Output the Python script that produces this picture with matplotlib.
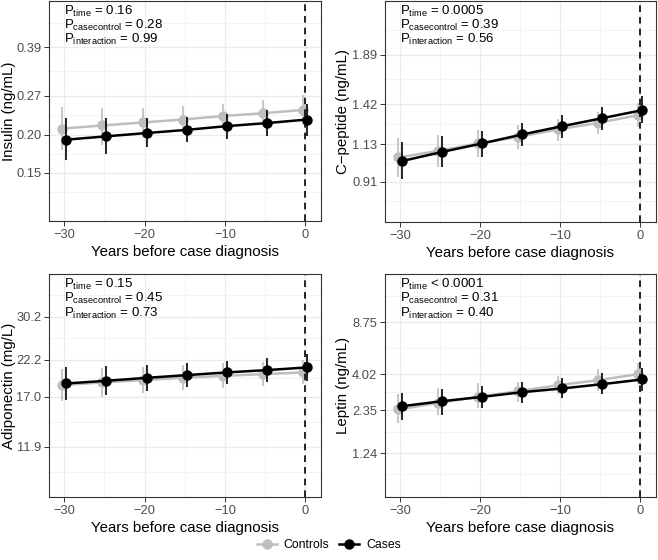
import numpy as np
import matplotlib
matplotlib.use("Agg")
import matplotlib.pyplot as plt
from matplotlib.lines import Line2D

plt.rcParams['font.family'] = ['Liberation Sans', 'DejaVu Sans']
plt.rcParams['mathtext.fontset'] = 'custom'
plt.rcParams['mathtext.rm'] = 'Liberation Sans'
plt.rcParams['mathtext.it'] = 'Liberation Sans'

years = [-30, -25, -20, -15, -10, -5, 0]

# insulin (ng/mL)
ins_ctrl = [0.210, 0.215, 0.220, 0.225, 0.231, 0.236, 0.242]
ins_ctrl_lo = [0.178, 0.186, 0.196, 0.203, 0.210, 0.215, 0.215]
ins_ctrl_hi = [0.247, 0.245, 0.245, 0.249, 0.253, 0.260, 0.272]
ins_case = [0.193, 0.198, 0.203, 0.208, 0.214, 0.219, 0.225]
ins_case_lo = [0.165, 0.173, 0.182, 0.189, 0.194, 0.198, 0.199]
ins_case_hi = [0.228, 0.227, 0.228, 0.230, 0.235, 0.242, 0.253]

# c-peptide (ng/mL)
cp_ctrl = [1.047, 1.087, 1.135, 1.178, 1.230, 1.277, 1.335]
cp_ctrl_lo = [0.937, 0.989, 1.051, 1.102, 1.152, 1.195, 1.248]
cp_ctrl_hi = [1.168, 1.190, 1.225, 1.260, 1.302, 1.360, 1.428]
cp_case = [1.026, 1.081, 1.135, 1.195, 1.253, 1.312, 1.374]
cp_case_lo = [0.928, 0.989, 1.051, 1.117, 1.174, 1.225, 1.273]
cp_case_hi = [1.145, 1.183, 1.219, 1.273, 1.335, 1.400, 1.489]

# adiponectin (mg/L)
adi_ctrl = [18.49, 18.85, 19.16, 19.48, 19.76, 20.00, 20.25]
adi_ctrl_lo = [16.52, 17.00, 17.42, 17.84, 18.05, 18.35, 18.58]
adi_ctrl_hi = [20.73, 20.84, 21.08, 21.34, 21.60, 21.85, 22.12]
adi_case = [18.71, 19.07, 19.48, 19.86, 20.25, 20.59, 20.99]
adi_case_lo = [16.60, 17.21, 17.75, 18.26, 18.62, 18.85, 19.07]
adi_case_hi = [20.99, 21.19, 21.34, 21.60, 21.96, 22.39, 23.09]

# leptin (ng/mL)
lep_ctrl = [2.375, 2.621, 2.866, 3.121, 3.413, 3.678, 4.022]
lep_ctrl_lo = [1.944, 2.181, 2.410, 2.660, 2.984, 3.134, 3.464]
lep_ctrl_hi = [2.971, 3.249, 3.501, 3.585, 3.904, 4.314, 4.718]
lep_case = [2.495, 2.688, 2.866, 3.074, 3.249, 3.464, 3.716]
lep_case_lo = [2.024, 2.181, 2.410, 2.621, 2.798, 2.971, 3.134]
lep_case_hi = [3.042, 3.200, 3.362, 3.585, 3.772, 4.064, 4.418]

ylabels = ['Insulin (ng/mL)', 'C\u2212peptide (ng/mL)', 'Adiponectin (mg/L)', 'Leptin (ng/mL)']
yticks = [[0.15, 0.20, 0.27, 0.39], [0.91, 1.13, 1.42, 1.89],
          [11.9, 17.0, 22.2, 30.2], [1.24, 2.35, 4.02, 8.75]]
yticklabels = [['0.15', '0.20', '0.27', '0.39'], ['0.91', '1.13', '1.42', '1.89'],
               ['11.9', '17.0', '22.2', '30.2'], ['1.24', '2.35', '4.02', '8.75']]
ylims = [(0.104, 0.554), (0.723, 2.57), (8.30, 40.96), (0.644, 17.9)]
pvals = [['= 0.16', '= 0.28', '= 0.99'],
         ['= 0.0005', '= 0.39', '= 0.56'],
         ['= 0.15', '= 0.45', '= 0.73'],
         ['< 0.0001', '= 0.31', '= 0.40']]

series = [
    (ins_ctrl, ins_ctrl_lo, ins_ctrl_hi, ins_case, ins_case_lo, ins_case_hi),
    (cp_ctrl, cp_ctrl_lo, cp_ctrl_hi, cp_case, cp_case_lo, cp_case_hi),
    (adi_ctrl, adi_ctrl_lo, adi_ctrl_hi, adi_case, adi_case_lo, adi_case_hi),
    (lep_ctrl, lep_ctrl_lo, lep_ctrl_hi, lep_case, lep_case_lo, lep_case_hi),
]

W, H = 658, 560
fig = plt.figure(figsize=(W / 100, H / 100), dpi=100)
boxes = [(49, 1, 321, 221), (385, 1, 656, 222), (49, 274, 321, 497), (385, 274, 656, 497)]
# right edge of the rotated y title, in pixels
ylab_x = [16, 350, 16, 350]

grey = '#BEBEBE'
x = np.array(years, dtype=float)
dodge = 0.25

for i, (b, s) in enumerate(zip(boxes, series)):
    x0, y0, x1, y1 = b
    ax = fig.add_axes([x0 / W, 1 - y1 / H, (x1 - x0) / W, (y1 - y0) / H])
    ax.set_yscale('log')
    ax.set_xlim(-31.9, 1.95)
    ax.set_ylim(*ylims[i])

    # grid like ggplot theme_bw
    ax.set_xticks([-30, -20, -10, 0])
    ax.set_xticks([-25, -15, -5], minor=True)
    ax.set_yticks(yticks[i])
    ax.set_yticklabels(yticklabels[i])
    lt = np.log(yticks[i])
    step = np.diff(lt)
    mids = list((lt[:-1] + lt[1:]) / 2)
    mids = [lt[0] - step[0] / 2] + mids + [lt[-1] + step[-1] / 2]
    ax.set_yticks(np.exp(mids), minor=True)
    ax.yaxis.set_minor_formatter(plt.NullFormatter())
    ax.grid(True, which='major', color='#EBEBEB', lw=1.0)
    ax.grid(True, which='minor', color='#F2F2F2', lw=0.6)
    ax.set_axisbelow(True)
    ax.tick_params(which='minor', length=0)
    ax.tick_params(which='major', length=3.5, width=0.7, color='#333333',
                   labelsize=9.3, labelcolor='#4D4D4D', pad=2)
    for sp in ax.spines.values():
        sp.set_color('#333333')
        sp.set_linewidth(0.8)

    c, clo, chi, k, klo, khi = [np.array(v) for v in s]
    ax.errorbar(x - dodge, c, yerr=[c - clo, chi - c], fmt='none', ecolor=grey, elinewidth=1.2)
    ax.plot(x - dodge, c, color=grey, lw=1.8, marker='o', ms=6.5, mec=grey, mfc=grey)
    ax.errorbar(x + dodge, k, yerr=[k - klo, khi - k], fmt='none', ecolor='black', elinewidth=1.2)
    ax.plot(x + dodge, k, color='black', lw=1.8, marker='o', ms=6.5)

    ax.axvline(0, color='black', lw=1.2, ls=(0, (4, 3)))

    ax.set_xlabel('Years before case diagnosis', fontsize=10.8, labelpad=3)
    ax.set_ylabel(ylabels[i], fontsize=10.8)
    ax.yaxis.set_label_coords((ylab_x[i] - x0) / (x1 - x0), 0.5)

    names = ['time', 'casecontrol', 'interaction']
    for j, (nm, pv) in enumerate(zip(names, pvals[i])):
        ax.text(0.055, 0.985 - j * 0.063, r'$\mathrm{P_{%s}}$ %s' % (nm, pv),
                transform=ax.transAxes, fontsize=9.5, va='top', ha='left')

handles = [Line2D([], [], color=grey, lw=1.8, marker='o', ms=6.5, mec=grey),
           Line2D([], [], color='black', lw=1.8, marker='o', ms=6.5)]
fig.legend(handles, ['Controls', 'Cases'], loc='center', bbox_to_anchor=(0.5, 1 - 545 / H),
           ncol=2, frameon=False, fontsize=8.8, handlelength=1.6, columnspacing=0.8,
           handletextpad=0.6)

fig.savefig('out.png', dpi=100)
